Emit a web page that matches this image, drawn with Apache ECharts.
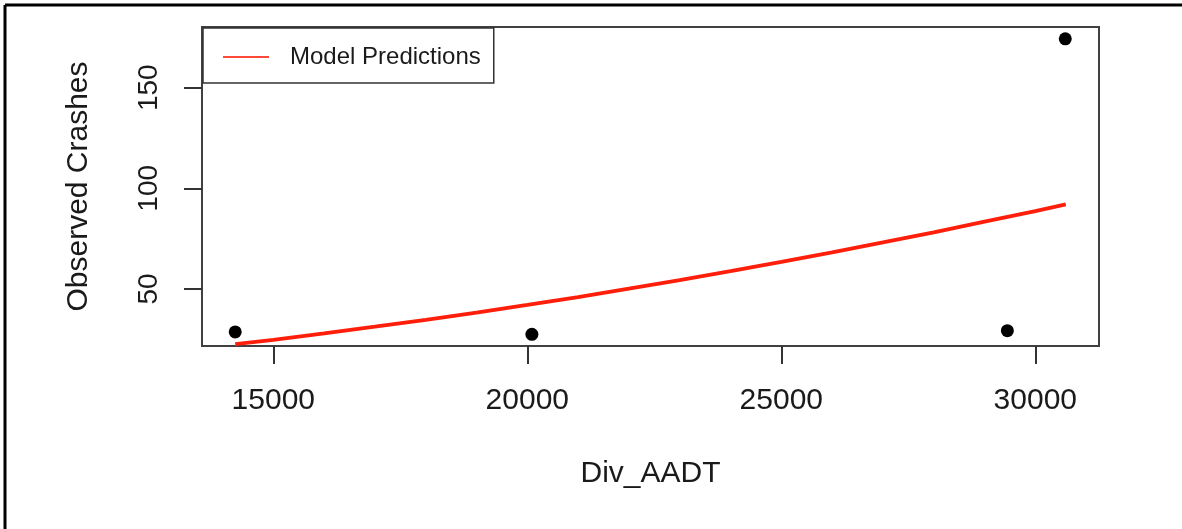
<!DOCTYPE html>
<html>
<head>
<meta charset="utf-8">
<script src="https://cdn.jsdelivr.net/npm/echarts@6/dist/echarts.min.js"></script>
<style>
html,body{margin:0;padding:0;background:#fff;}
#chart{width:1182px;height:529px;}
</style>
</head>
<body>
<div id="chart"></div>
<script>
// Observed points
const obsX = [14250, 20090, 29450, 30590];
const obsY = [28.6, 27.4, 29.2, 174.3];
// Model prediction curve
const predX = [14250, 15000, 16000, 17000, 18000, 19000, 20000, 21000, 22000, 23000, 24000, 25000, 26000, 27000, 28000, 29000, 30000, 30600];
const predY = [22.5, 24.7, 27.9, 31.2, 34.6, 38.2, 42.0, 45.9, 50.1, 54.4, 58.8, 63.4, 68.2, 73.1, 78.1, 83.4, 88.7, 92.0];
const xTicks = [15000, 20000, 25000, 30000];
const yTicks = [50, 100, 150];
const xName = 'Div_AADT';
const yName = 'Observed Crashes';
const legendName = 'Model Predictions';

const FONT = 'Liberation Sans';
const TXT = '#1a1a1a';
const chart = echarts.init(document.getElementById('chart'), null, {renderer: 'canvas'});
chart.setOption({
  animation: false,
  backgroundColor: '#fff',
  grid: {left: 202, top: 27, right: 83, bottom: 183, show: true, borderColor: '#404040', borderWidth: 2, backgroundColor: 'transparent'},
  xAxis: {
    type: 'value', min: 13596, max: 31254,
    axisLine: {show: false},
    splitLine: {show: false},
    axisTick: {show: true, length: 18, customValues: xTicks, lineStyle: {color: '#333', width: 2}},
    axisLabel: {customValues: xTicks, margin: 40, fontFamily: FONT, fontSize: 30, color: TXT, lineHeight: 30,
      formatter: v => String(v)},
    name: xName, nameLocation: 'middle', nameGap: 113,
    nameTextStyle: {fontFamily: FONT, fontSize: 30, color: TXT, lineHeight: 30}
  },
  yAxis: {
    type: 'value', min: 21.6, max: 180.2,
    axisLine: {show: false},
    splitLine: {show: false},
    axisTick: {show: true, length: 18, customValues: yTicks, lineStyle: {color: '#333', width: 2}},
    axisLabel: {customValues: yTicks, rotate: 90, margin: 38, fontFamily: FONT, fontSize: 28, color: TXT, lineHeight: 30,
      formatter: v => String(v)},
    name: yName, nameLocation: 'middle', nameGap: 108, nameRotate: 90,
    nameTextStyle: {fontFamily: FONT, fontSize: 30, color: TXT, lineHeight: 30}
  },
  legend: {
    left: 203, top: 28,
    orient: 'vertical',
    backgroundColor: '#fff',
    borderColor: '#333', borderWidth: 1.5, borderRadius: 0,
    padding: [17, 13, 14, 20],
    itemWidth: 46, itemHeight: 2,
    textStyle: {fontFamily: FONT, fontSize: 24, color: TXT, lineHeight: 24, padding: [0, 0, 0, 16]},
    data: [{name: legendName, icon: 'rect', itemStyle: {color: '#ff4a3a'}}]
  },
  graphic: [
    {type: 'line', shape: {x1: 5, y1: 5, x2: 5, y2: 529}, style: {stroke: '#000', lineWidth: 3}, z: 100},
    {type: 'line', shape: {x1: 5, y1: 5, x2: 1182, y2: 5}, style: {stroke: '#000', lineWidth: 3}, z: 100}
  ],
  series: [
    {
      name: legendName, type: 'line',
      data: predX.map((x, i) => [x, predY[i]]),
      symbol: 'none', smooth: false,
      lineStyle: {color: '#ff1e0a', width: 3.8},
      itemStyle: {color: '#ff4a3a'},
      z: 2
    },
    {
      name: 'Observed', type: 'scatter',
      data: obsX.map((x, i) => [x, obsY[i]]),
      symbol: 'circle', symbolSize: 13,
      itemStyle: {color: '#000', opacity: 1},
      z: 3
    }
  ]
});
</script>
</body>
</html>
